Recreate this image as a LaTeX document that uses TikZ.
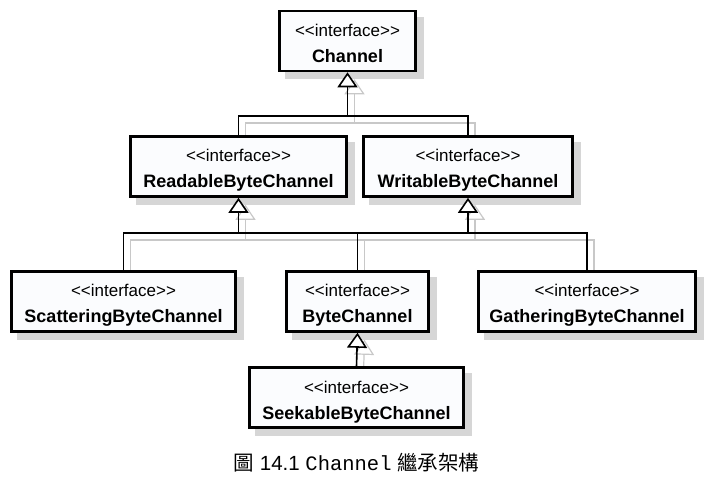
\documentclass[tikz,border=0pt]{standalone}
\usepackage{fontspec}
\setmainfont{Liberation Sans}
\newfontfamily\arialf{Liberation Sans}
\newfontfamily\monof{Liberation Mono}
\newfontfamily\cjkf{Noto Sans CJK TC}
\usetikzlibrary{arrows.meta,backgrounds}
\definecolor{boxfill}{HTML}{FBFCFE}
\definecolor{shadowcol}{HTML}{D6D6D6}
\definecolor{lineshadow}{HTML}{C8C8C8}
\newcommand\myconns[1]{%
  \draw[conn,#1] (R.north) |- (W.north |- j1) -- (W.north);
  \draw[conn,gen,#1] (C.south |- j1) -- (C.south);
  \draw[conn,#1] (S.north) |- (G.north |- j2) -- (G.north);
  \draw[conn,#1] (B.north) -- (B.north |- j2);
  \draw[conn,gen,#1] (R.south |- j2) -- (R.south);
  \draw[conn,gen,#1] (W.south |- j2) -- (W.south);
  \draw[conn,gen,#1] (K.north) -- (B.south);
}
\newcommand\stereotxt{\textless\kern0pt\textless\kern0pt interface\kern0pt\textgreater\kern0pt\textgreater}
\begin{document}
\begin{tikzpicture}[x=1pt,y=-1pt,
 umlbox/.style={draw, line width=2.6pt, fill=boxfill, minimum height=60pt, inner sep=0pt},
 stereo/.style={anchor=base, inner sep=0pt, font=\fontsize{17}{19}\selectfont},
 cname/.style={anchor=base, inner sep=0pt, font=\fontsize{18}{20}\selectfont\bfseries},
 conn/.style={line width=1.6pt, draw=black},
 gen/.style={-{Triangle[open, width=20pt, length=15pt, fill=white]}},
]
\useasboundingbox (0,0) rectangle (704,478);

\node[umlbox, minimum width=136pt] (C) at (347.5,41) {};
\node[umlbox, minimum width=216pt] (R) at (238.5,166.5) {};
\node[umlbox, minimum width=209pt] (W) at (468,166.5) {};
\node[umlbox, minimum width=224pt] (S) at (123.5,301.5) {};
\node[umlbox, minimum width=142pt] (B) at (357.5,301.5) {};
\node[umlbox, minimum width=217pt] (G) at (587,301.5) {};
\node[umlbox, minimum width=214pt] (K) at (356.5,397.5) {};

\foreach \n/\t in {C/Channel, R/ReadableByteChannel, W/WritableByteChannel,
  S/ScatteringByteChannel, B/ByteChannel, G/GatheringByteChannel, K/SeekableByteChannel}{
  \node[stereo] (\n s) at ([yshift=4.5pt]\n.center) {\stereotxt};
  \node[cname] (\n n) at ([yshift=-21.5pt]\n.center) {\t};
}

\coordinate (j1) at (347.5,116);
\coordinate (j2) at (357.5,233);

\begin{scope}[on background layer]
  \foreach \n in {C,R,W,S,B,G,K}
    \fill[shadowcol] ([shift={(7pt,-7pt)}]\n.north west) rectangle ([shift={(7pt,-7pt)}]\n.south east);
  \begin{scope}[transform canvas={shift={(7pt,-7pt)}}]
    \myconns{draw=lineshadow, line width=1.2pt}
  \end{scope}
\end{scope}

\myconns{}

\node (cap) at (356.5,463) {\fontsize{20.5}{23}\selectfont{\cjkf 圖} {\arialf 14.1} {\monof Channel} {\cjkf 繼承架構}};
\end{tikzpicture}
\end{document}
